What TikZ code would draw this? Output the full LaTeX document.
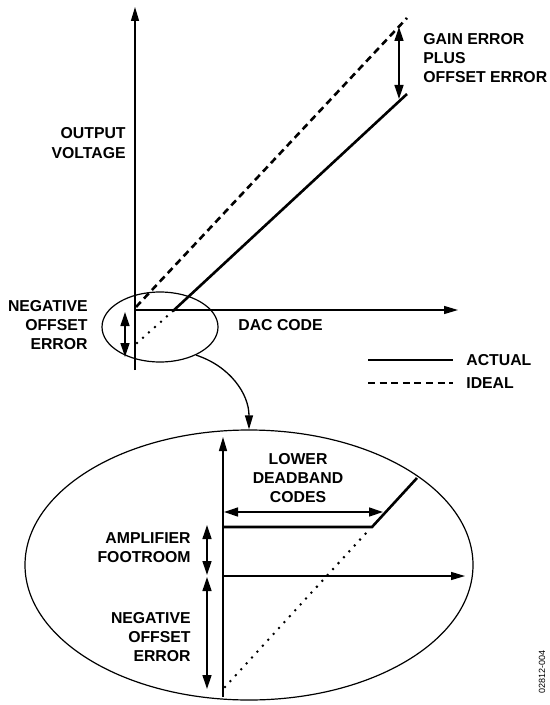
\documentclass[tikz,border=0pt]{standalone}
\usepackage{fontspec}
\setmainfont{Liberation Sans}
\usetikzlibrary{arrows.meta,shapes.geometric}

\tikzset{
	lbl/.style={font=\bfseries\fontsize{7.9}{9.6}\selectfont, inner sep=0pt},
	tip/.style={-{Triangle[length=7pt,width=4pt]}},
	bitip/.style={{Triangle[length=7pt,width=4.5pt]}-{Triangle[length=7pt,width=4.5pt]}},
	axis/.style={line width=0.65pt},
	actual/.style={line width=1.3pt},
	ideal/.style={line width=1.3pt, dash pattern=on 3.5pt off 2.3pt},
	extend/.style={line width=1.4pt, dash pattern=on 0pt off 4pt, line cap=round},
	zoomring/.style={draw, ellipse, inner sep=0pt, line width=0.6pt},
}

\begin{document}
\begin{tikzpicture}[x=0.5pt,y=-0.5pt]
	\useasboundingbox (0,0) rectangle (550,705);
	
	% upper plot
	\coordinate (O) at (135,310);
	\coordinate (ytop) at (135,7);
	\coordinate (ybot) at (135,370);
	\coordinate (xend) at (458,310);
	\coordinate (idealA) at (136,307);
	\coordinate (idealB) at (407,18);
	\coordinate (actA) at (173,311);
	\coordinate (actB) at (407,94);
	\coordinate (offA) at (137,343);
	\coordinate (gainA) at (399,27);
	\coordinate (gainB) at (399,99);
	\coordinate (negA) at (125,312);
	\coordinate (negB) at (125,357);
	
	\draw[axis, tip] (ybot) -- (ytop);
	\draw[axis, tip] (O) -- (xend);
	\draw[ideal] (idealA) -- (idealB);
	\draw[actual] (actA) -- (actB);
	\draw[extend] (offA) -- (actA);
	\draw[axis, bitip] (gainA) -- (gainB);
	\draw[axis, bitip] (negA) -- (negB);
	
	\node (zoomA) at (160,327) [zoomring, minimum width=58pt, minimum height=35pt] {};
	
	\node (outv) at (126,143) [lbl, align=right, anchor=east] {OUTPUT\\VOLTAGE};
	\node (gain) at (423,58) [lbl, align=left, anchor=west] {GAIN ERROR\\PLUS\\OFFSET ERROR};
	\node (neg1) at (88,325) [lbl, align=right, anchor=east] {NEGATIVE\\OFFSET\\ERROR};
	\node (dac) at (238,325) [lbl, anchor=west] {DAC CODE};
	
	% legend
	\coordinate (legA1) at (368,360);
	\coordinate (legA2) at (453,360);
	\coordinate (legI1) at (368,383);
	\coordinate (legI2) at (453,383);
	\draw[actual] (legA1) -- (legA2);
	\draw[ideal] (legI1) -- (legI2);
	\node (actual) at (466,360) [lbl, anchor=west] {ACTUAL};
	\node (ideal) at (466,383) [lbl, anchor=west] {IDEAL};
	
	% enlarged view
	\node (zoomB) at (249,565) [zoomring, minimum width=224pt, minimum height=135pt] {};
	\draw[axis, tip] (zoomA.-38) to[out=-18, in=90] (zoomB.north);
	
	\coordinate (O2) at (223,576);
	\coordinate (ytop2) at (223,437);
	\coordinate (ybot2) at (223,697);
	\coordinate (xend2) at (465,576);
	\coordinate (flatA) at (223,527);
	\coordinate (flatB) at (372,527);
	\coordinate (riseB) at (417,478);
	\coordinate (dotA) at (225,687);
	\coordinate (dotB) at (367,532);
	\coordinate (bandA) at (224,512);
	\coordinate (bandB) at (383,512);
	\coordinate (footA) at (207,525);
	\coordinate (footB) at (207,575);
	\coordinate (negC) at (207,577);
	\coordinate (negD) at (207,689);
	
	\draw[axis, tip] (ybot2) -- (ytop2);
	\draw[axis, tip] (O2) -- (xend2);
	\draw[actual] (flatA) -- (flatB) -- (riseB);
	\draw[extend] (dotA) -- (dotB);
	\draw[axis, bitip] (bandA) -- (bandB);
	\draw[axis, bitip] (footA) -- (footB);
	\draw[axis, bitip] (negC) -- (negD);
	
	\node (band) at (298,478) [lbl, align=center] {LOWER\\DEADBAND\\CODES};
	\node (foot) at (191,548) [lbl, align=right, anchor=east] {AMPLIFIER\\FOOTROOM};
	\node (neg2) at (191,637) [lbl, align=right, anchor=east] {NEGATIVE\\OFFSET\\ERROR};
	\node (figno) at (542,672) [rotate=90, inner sep=0pt, font=\fontsize{4.5}{5}\selectfont] {02812-004};
\end{tikzpicture}
\end{document}
